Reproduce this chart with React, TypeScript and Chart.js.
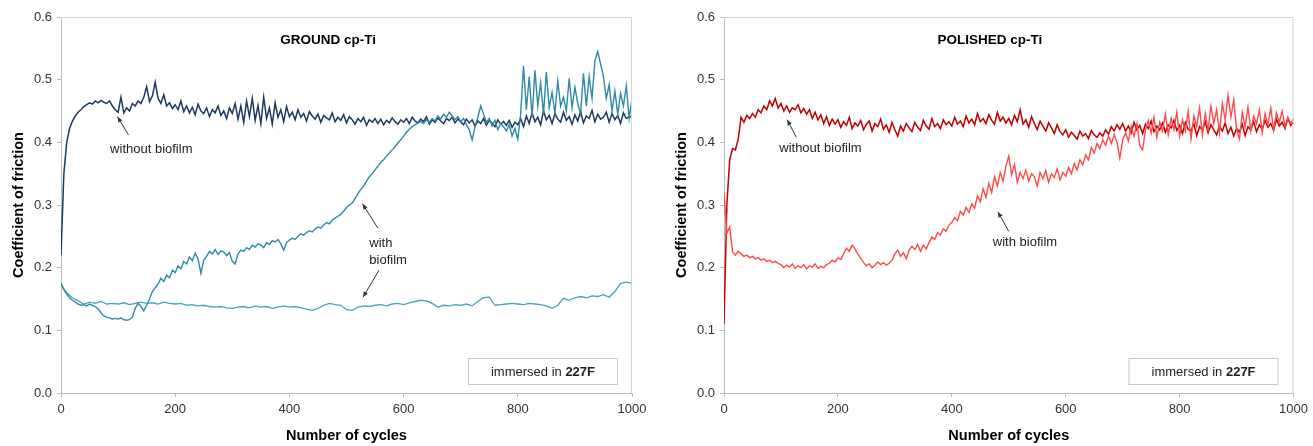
import React, { useEffect, useRef } from "react";
import { Chart, registerables } from "chart.js";

Chart.register(...registerables);
Chart.defaults.font.family = "'Liberation Sans', Arial, sans-serif";

// ---------- categories (cycles) ----------
const cyclesFine = [
  0, 5, 10, 15, 20, 25, 30, 35, 40, 45, 50, 55, 60, 65, 70, 75, 80, 85, 90, 95,
  100, 105, 110, 115, 120, 125, 130, 135, 140, 145, 150, 155, 160, 165, 170, 175, 180, 185, 190, 195,
  200, 205, 210, 215, 220, 225, 230, 235, 240, 245, 250, 255, 260, 265, 270, 275, 280, 285, 290, 295,
  300, 305, 310, 315, 320, 325, 330, 335, 340, 345, 350, 355, 360, 365, 370, 375, 380, 385, 390, 395,
  400, 405, 410, 415, 420, 425, 430, 435, 440, 445, 450, 455, 460, 465, 470, 475, 480, 485, 490, 495,
  500, 505, 510, 515, 520, 525, 530, 535, 540, 545, 550, 555, 560, 565, 570, 575, 580, 585, 590, 595,
  600, 605, 610, 615, 620, 625, 630, 635, 640, 645, 650, 655, 660, 665, 670, 675, 680, 685, 690, 695,
  700, 705, 710, 715, 720, 725, 730, 735, 740, 745, 750, 755, 760, 765, 770, 775, 780, 785, 790, 795,
  800, 805, 810, 815, 820, 825, 830, 835, 840, 845, 850, 855, 860, 865, 870, 875, 880, 885, 890, 895,
  900, 905, 910, 915, 920, 925, 930, 935, 940, 945, 950, 955, 960, 965, 970, 975, 980, 985, 990, 995,
  1000,
];

const cyclesCoarse = [
  0, 10, 20, 30, 40, 50, 60, 70, 80, 90,
  100, 110, 120, 130, 140, 150, 160, 170, 180, 190,
  200, 210, 220, 230, 240, 250, 260, 270, 280, 290,
  300, 310, 320, 330, 340, 350, 360, 370, 380, 390,
  400, 410, 420, 430, 440, 450, 460, 470, 480, 490,
  500, 510, 520, 530, 540, 550, 560, 570, 580, 590,
  600, 610, 620, 630, 640, 650, 660, 670, 680, 690,
  700, 710, 720, 730, 740, 750, 760, 770, 780, 790,
  800, 810, 820, 830, 840, 850, 860, 870, 880, 890,
  900, 910, 920, 930, 940, 950, 960, 970, 980, 990,
  1000,
];

// ---------- tick labels ----------
const xTicks = [0, 200, 400, 600, 800, 1000];
const yTicks = [0.0, 0.1, 0.2, 0.3, 0.4, 0.5, 0.6];
const yTickLabels = ["0.0", "0.1", "0.2", "0.3", "0.4", "0.5", "0.6"];

// ---------- GROUND cp-Ti ----------
const groundWithout = [
  0.220, 0.350, 0.400, 0.422, 0.434, 0.442, 0.448, 0.452, 0.457, 0.460, 0.463, 0.461, 0.466, 0.463, 0.467, 0.464, 0.462, 0.466, 0.458, 0.452,
  0.448, 0.472, 0.447, 0.455, 0.450, 0.462, 0.458, 0.466, 0.462, 0.472, 0.489, 0.465, 0.474, 0.496, 0.470, 0.462, 0.476, 0.458, 0.463, 0.454,
  0.460, 0.452, 0.466, 0.449, 0.458, 0.447, 0.456, 0.444, 0.461, 0.450, 0.446, 0.455, 0.441, 0.452, 0.447, 0.458, 0.443, 0.450, 0.438, 0.455,
  0.446, 0.462, 0.437, 0.458, 0.432, 0.466, 0.441, 0.470, 0.435, 0.459, 0.430, 0.472, 0.438, 0.455, 0.429, 0.463, 0.440, 0.452, 0.433, 0.457,
  0.441, 0.448, 0.436, 0.452, 0.440, 0.446, 0.434, 0.449, 0.442, 0.437, 0.445, 0.432, 0.443, 0.439, 0.436, 0.447, 0.433, 0.440, 0.435, 0.444,
  0.431, 0.441, 0.436, 0.429, 0.438, 0.433, 0.440, 0.427, 0.436, 0.432, 0.438, 0.430, 0.437, 0.428, 0.435, 0.431, 0.439, 0.433, 0.429, 0.436,
  0.432, 0.438, 0.430, 0.440, 0.434, 0.431, 0.437, 0.433, 0.441, 0.429, 0.436, 0.432, 0.439, 0.434, 0.430, 0.438, 0.435, 0.440, 0.431, 0.437,
  0.433, 0.428, 0.437, 0.431, 0.436, 0.426, 0.434, 0.430, 0.438, 0.427, 0.435, 0.431, 0.425, 0.436, 0.429, 0.433, 0.427, 0.435, 0.424, 0.432,
  0.428, 0.438, 0.425, 0.442, 0.430, 0.447, 0.433, 0.440, 0.428, 0.450, 0.436, 0.443, 0.430, 0.446, 0.437, 0.432, 0.448, 0.435, 0.441, 0.429,
  0.444, 0.434, 0.449, 0.431, 0.442, 0.438, 0.451, 0.433, 0.445, 0.437, 0.440, 0.448, 0.432, 0.446, 0.436, 0.443, 0.430, 0.447, 0.438, 0.441,
  0.440,
];

const groundWithBiofilmA = [
  0.175, 0.165, 0.158, 0.152, 0.148, 0.145, 0.142, 0.140, 0.141, 0.139, 0.142, 0.140, 0.138, 0.134, 0.128, 0.123, 0.121, 0.120, 0.118, 0.119,
  0.118, 0.120, 0.117, 0.116, 0.117, 0.121, 0.135, 0.143, 0.138, 0.131, 0.140, 0.150, 0.162, 0.168, 0.174, 0.183, 0.178, 0.188, 0.184, 0.196,
  0.192, 0.203, 0.198, 0.210, 0.206, 0.217, 0.211, 0.223, 0.214, 0.191, 0.212, 0.218, 0.226, 0.222, 0.229, 0.221, 0.227, 0.225, 0.219, 0.224,
  0.210, 0.206, 0.222, 0.228, 0.226, 0.232, 0.229, 0.236, 0.233, 0.238, 0.236, 0.232, 0.240, 0.237, 0.243, 0.241, 0.245, 0.238, 0.228, 0.240,
  0.244, 0.247, 0.245, 0.250, 0.254, 0.252, 0.256, 0.259, 0.257, 0.262, 0.265, 0.263, 0.268, 0.272, 0.270, 0.276, 0.279, 0.282, 0.285, 0.290,
  0.296, 0.300, 0.303, 0.310, 0.318, 0.325, 0.330, 0.338, 0.345, 0.350, 0.356, 0.362, 0.368, 0.372, 0.378, 0.383, 0.388, 0.393, 0.399, 0.404,
  0.410, 0.416, 0.421, 0.425, 0.428, 0.431, 0.433, 0.430, 0.436, 0.432, 0.438, 0.434, 0.442, 0.437, 0.445, 0.440, 0.448, 0.442, 0.436, 0.441,
  0.433, 0.438, 0.428, 0.420, 0.404, 0.425, 0.440, 0.458, 0.445, 0.432, 0.438, 0.426, 0.435, 0.420, 0.430, 0.425, 0.418, 0.428, 0.410, 0.422,
  0.405, 0.445, 0.522, 0.452, 0.505, 0.440, 0.515, 0.458, 0.495, 0.445, 0.512, 0.455, 0.480, 0.446, 0.498, 0.458, 0.472, 0.450, 0.502, 0.455,
  0.488, 0.462, 0.445, 0.510, 0.458, 0.505, 0.470, 0.530, 0.545, 0.525, 0.505, 0.470, 0.492, 0.450, 0.482, 0.445, 0.478, 0.458, 0.490, 0.438,
  0.470,
];

const groundWithBiofilmB = [
  0.172, 0.160, 0.152, 0.147, 0.142, 0.145, 0.143, 0.146, 0.142, 0.143,
  0.142, 0.144, 0.141, 0.143, 0.145, 0.143, 0.144, 0.142, 0.145, 0.143,
  0.142, 0.143, 0.140, 0.141, 0.139, 0.140, 0.138, 0.137, 0.138, 0.136,
  0.135, 0.137, 0.138, 0.136, 0.139, 0.137, 0.138, 0.135, 0.137, 0.139,
  0.137, 0.138, 0.136, 0.134, 0.132, 0.135, 0.140, 0.143, 0.141, 0.140,
  0.133, 0.132, 0.137, 0.139, 0.138, 0.140, 0.141, 0.139, 0.142, 0.143,
  0.141, 0.144, 0.146, 0.148, 0.147, 0.143, 0.137, 0.140, 0.139, 0.141,
  0.140, 0.142, 0.139, 0.146, 0.152, 0.153, 0.140, 0.141, 0.142, 0.143,
  0.142, 0.141, 0.143, 0.142, 0.141, 0.139, 0.135, 0.140, 0.151, 0.148,
  0.152, 0.154, 0.152, 0.155, 0.154, 0.157, 0.153, 0.162, 0.175, 0.177,
  0.175,
];

// ---------- POLISHED cp-Ti ----------
const polishedWithout = [
  0.110, 0.300, 0.372, 0.390, 0.388, 0.405, 0.440, 0.432, 0.443, 0.438, 0.446, 0.440, 0.452, 0.447, 0.458, 0.452, 0.466, 0.458, 0.470, 0.455,
  0.462, 0.450, 0.458, 0.448, 0.455, 0.452, 0.460, 0.447, 0.454, 0.445, 0.452, 0.438, 0.448, 0.436, 0.444, 0.430, 0.441, 0.427, 0.437, 0.429,
  0.436, 0.424, 0.433, 0.427, 0.440, 0.422, 0.431, 0.426, 0.435, 0.420, 0.429, 0.434, 0.418, 0.430, 0.425, 0.437, 0.421, 0.428, 0.416, 0.432,
  0.420, 0.410, 0.426, 0.418, 0.430, 0.423, 0.417, 0.432, 0.424, 0.419, 0.435, 0.426, 0.421, 0.438, 0.425, 0.430, 0.422, 0.436, 0.428, 0.433,
  0.426, 0.440, 0.429, 0.434, 0.425, 0.442, 0.431, 0.437, 0.428, 0.446, 0.433, 0.438, 0.430, 0.444, 0.435, 0.429, 0.448, 0.434, 0.440, 0.431,
  0.438, 0.428, 0.443, 0.433, 0.452, 0.429, 0.436, 0.424, 0.441, 0.430, 0.420, 0.434, 0.426, 0.418, 0.431, 0.423, 0.414, 0.428, 0.417, 0.412,
  0.420, 0.408, 0.416, 0.411, 0.405, 0.418, 0.410, 0.414, 0.406, 0.419, 0.412, 0.408, 0.415, 0.410, 0.420, 0.413, 0.425, 0.418, 0.428, 0.421,
  0.430, 0.418, 0.426, 0.415, 0.432, 0.420, 0.427, 0.414, 0.429, 0.422, 0.434, 0.417, 0.426, 0.420, 0.431, 0.416, 0.428, 0.423, 0.435, 0.419,
  0.427, 0.414, 0.432, 0.421, 0.418, 0.430, 0.411, 0.425, 0.419, 0.433, 0.415, 0.428, 0.420, 0.412, 0.426, 0.418, 0.431, 0.414, 0.424, 0.410,
  0.422, 0.416, 0.429, 0.411, 0.425, 0.420, 0.433, 0.417, 0.428, 0.421, 0.435, 0.424, 0.430, 0.419, 0.437, 0.426, 0.432, 0.422, 0.438, 0.427,
  0.432,
];

const polishedWithBiofilm = [
  0.320, 0.255, 0.265, 0.225, 0.220, 0.226, 0.222, 0.218, 0.220, 0.216, 0.218, 0.214, 0.216, 0.212, 0.214, 0.210, 0.212, 0.208, 0.210, 0.207,
  0.205, 0.200, 0.204, 0.201, 0.206, 0.199, 0.203, 0.200, 0.205, 0.198, 0.203, 0.201, 0.206, 0.199, 0.202, 0.200, 0.205, 0.207, 0.212, 0.209,
  0.216, 0.213, 0.222, 0.231, 0.226, 0.236, 0.230, 0.222, 0.215, 0.208, 0.203, 0.206, 0.200, 0.204, 0.209, 0.205, 0.208, 0.204, 0.207, 0.212,
  0.222, 0.228, 0.218, 0.224, 0.214, 0.228, 0.234, 0.229, 0.237, 0.226, 0.236, 0.230, 0.240, 0.249, 0.245, 0.256, 0.252, 0.262, 0.258, 0.268,
  0.272, 0.280, 0.275, 0.290, 0.284, 0.296, 0.288, 0.302, 0.295, 0.315, 0.305, 0.326, 0.312, 0.335, 0.320, 0.345, 0.330, 0.352, 0.338, 0.362,
  0.378, 0.348, 0.365, 0.336, 0.352, 0.342, 0.356, 0.338, 0.350, 0.345, 0.330, 0.352, 0.342, 0.355, 0.336, 0.350, 0.344, 0.358, 0.340, 0.352,
  0.346, 0.360, 0.350, 0.366, 0.356, 0.372, 0.364, 0.380, 0.372, 0.392, 0.383, 0.398, 0.390, 0.404, 0.395, 0.410, 0.398, 0.412, 0.400, 0.375,
  0.404, 0.415, 0.402, 0.426, 0.410, 0.430, 0.395, 0.388, 0.420, 0.435, 0.415, 0.440, 0.408, 0.432, 0.418, 0.445, 0.412, 0.438, 0.420, 0.448,
  0.410, 0.436, 0.418, 0.450, 0.405, 0.442, 0.425, 0.455, 0.412, 0.446, 0.420, 0.458, 0.430, 0.452, 0.415, 0.462, 0.436, 0.475, 0.440, 0.468,
  0.420, 0.405, 0.448, 0.425, 0.456, 0.418, 0.442, 0.430, 0.452, 0.415, 0.446, 0.428, 0.455, 0.420, 0.447, 0.432, 0.450, 0.425, 0.440, 0.430,
  0.438,
];

// ---------- helpers ----------
const toPoints = (xs: number[], ys: number[]) => ys.map((v, i) => ({ x: xs[i], y: v }));

const FONT = "'Liberation Sans', Arial, sans-serif";

function drawArrow(ctx: CanvasRenderingContext2D, x1: number, y1: number, x2: number, y2: number) {
  ctx.beginPath();
  ctx.moveTo(x1, y1);
  ctx.lineTo(x2, y2);
  ctx.stroke();
  const ang = Math.atan2(y2 - y1, x2 - x1);
  const len = 6;
  const spread = 0.4;
  ctx.beginPath();
  ctx.moveTo(x2, y2);
  ctx.lineTo(x2 - len * Math.cos(ang - spread), y2 - len * Math.sin(ang - spread));
  ctx.lineTo(x2 - len * Math.cos(ang + spread), y2 - len * Math.sin(ang + spread));
  ctx.closePath();
  ctx.fill();
}

const overlayPlugin = {
  id: "overlay",
  afterDatasetsDraw(chart: any, _args: any, opts: any) {
    const { ctx, chartArea } = chart;
    const xs = chart.scales.x;
    const ys = chart.scales.y;
    ctx.save();
    // plot frame
    ctx.strokeStyle = "#d4d4d4";
    ctx.lineWidth = 1;
    ctx.beginPath();
    ctx.moveTo(chartArea.left, chartArea.top + 0.5);
    ctx.lineTo(chartArea.right - 0.5, chartArea.top + 0.5);
    ctx.lineTo(chartArea.right - 0.5, chartArea.bottom);
    ctx.stroke();

    // title inside plot
    ctx.fillStyle = "#000";
    ctx.font = `bold 13.5px ${FONT}`;
    ctx.textAlign = "center";
    ctx.textBaseline = "middle";
    ctx.fillText(opts.title, xs.getPixelForValue(opts.titleAt[0]), ys.getPixelForValue(opts.titleAt[1]));

    // notes
    ctx.fillStyle = "#222";
    ctx.font = `13px ${FONT}`;
    ctx.textAlign = "left";
    for (const n of opts.notes) {
      ctx.fillText(n.text, xs.getPixelForValue(n.at[0]), ys.getPixelForValue(n.at[1]));
    }
    // arrows
    ctx.strokeStyle = "#333";
    ctx.fillStyle = "#333";
    ctx.lineWidth = 1;
    for (const a of opts.arrows) {
      drawArrow(
        ctx,
        xs.getPixelForValue(a.from[0]),
        ys.getPixelForValue(a.from[1]),
        xs.getPixelForValue(a.to[0]),
        ys.getPixelForValue(a.to[1])
      );
    }

    // box "immersed in 227F"
    const bw = 150, bh = 27;
    const bx = chartArea.right - opts.boxRight - bw;
    const by = chartArea.bottom - 8 - bh;
    ctx.fillStyle = "#fff";
    ctx.fillRect(bx, by, bw, bh);
    ctx.strokeStyle = "#c8c8c8";
    ctx.strokeRect(bx + 0.5, by + 0.5, bw - 1, bh - 1);
    ctx.font = `13px ${FONT}`;
    const t1 = "immersed in ";
    const w1 = ctx.measureText(t1).width;
    ctx.font = `bold 13px ${FONT}`;
    const t2 = "227F";
    const w2 = ctx.measureText(t2).width;
    const tx = bx + (bw - w1 - w2) / 2;
    const ty = by + bh / 2 + 1;
    ctx.textAlign = "left";
    ctx.textBaseline = "middle";
    ctx.fillStyle = "#222";
    ctx.font = `13px ${FONT}`;
    ctx.fillText(t1, tx, ty);
    ctx.font = `bold 13px ${FONT}`;
    ctx.fillText(t2, tx + w1, ty);
    ctx.restore();
  },
};

type Cfg = {
  width: number;
  height: number;
  yAxisWidth: number;
  padRight: number;
  yTitlePad: number;
  datasets: any[];
  overlay: any;
};

function FrictionChart({ cfg, left }: { cfg: Cfg; left: number }) {
  const ref = useRef<HTMLCanvasElement>(null);
  useEffect(() => {
    if (!ref.current) return;
    const chart = new Chart(ref.current, {
      type: "line",
      data: { datasets: cfg.datasets },
      options: {
        responsive: false,
        maintainAspectRatio: false,
        animation: false,
        layout: { padding: { left: 0, right: cfg.padRight, top: 17, bottom: 0 } },
        elements: { point: { radius: 0 }, line: { tension: 0 } },
        plugins: {
          legend: { display: false },
          tooltip: { enabled: false },
          title: { display: false },
          overlay: cfg.overlay,
        } as any,
        scales: {
          x: {
            type: "linear",
            min: 0,
            max: 1000,
            afterBuildTicks: (s: any) => {
              s.ticks = xTicks.map((v) => ({ value: v }));
            },
            afterFit: (s: any) => {
              s.height = 53;
            },
            ticks: {
              color: "#333",
              font: { size: 13 },
              padding: 5,
              maxRotation: 0,
              autoSkip: false,
              callback: (v: any) => String(v),
            },
            grid: { drawOnChartArea: false, drawTicks: true, tickLength: 4, color: "#bdbdbd" },
            border: { color: "#bdbdbd" },
            title: {
              display: true,
              text: "Number of cycles",
              color: "#000",
              font: { size: 14.5, weight: "bold" },
              padding: { top: 0, bottom: 1 },
            },
          },
          y: {
            type: "linear",
            min: 0,
            max: 0.6,
            afterBuildTicks: (s: any) => {
              s.ticks = yTicks.map((v) => ({ value: v }));
            },
            afterFit: (s: any) => {
              s.width = cfg.yAxisWidth;
            },
            ticks: {
              color: "#333",
              font: { size: 13 },
              padding: 5,
              autoSkip: false,
              callback: (_v: any, i: number) => yTickLabels[i],
            },
            grid: { drawOnChartArea: false, drawTicks: true, tickLength: 4, color: "#bdbdbd" },
            border: { color: "#bdbdbd" },
            title: {
              display: true,
              text: "Coefficient of friction",
              color: "#000",
              font: { size: 14.5, weight: "bold" },
              padding: { top: cfg.yTitlePad, bottom: 0 },
            },
          },
        },
      },
      plugins: [overlayPlugin],
    } as any);
    return () => chart.destroy();
  }, []);
  return (
    <canvas
      ref={ref}
      width={cfg.width}
      height={cfg.height}
      style={{ position: "absolute", left, top: 0, width: cfg.width, height: cfg.height }}
    />
  );
}

const groundCfg: Cfg = {
  width: 656,
  height: 446,
  yAxisWidth: 61,
  padRight: 24,
  yTitlePad: 10,
  datasets: [
    { label: "with biofilm A", data: toPoints(cyclesFine, groundWithBiofilmA), borderColor: "#2f8aa4", borderWidth: 1.4, order: 1 },
    { label: "with biofilm B", data: toPoints(cyclesCoarse, groundWithBiofilmB), borderColor: "#4aa3bb", borderWidth: 1.3, order: 2 },
    { label: "without biofilm", data: toPoints(cyclesFine, groundWithout), borderColor: "#1d3a5f", borderWidth: 1.5, order: 3 },
  ],
  overlay: {
    title: "GROUND cp-Ti",
    titleAt: [468, 0.563],
    notes: [
      { text: "without biofilm", at: [86, 0.389] },
      { text: "with", at: [540, 0.239] },
      { text: "biofilm", at: [540, 0.211] },
    ],
    arrows: [
      { from: [118, 0.412], to: [99, 0.441] },
      { from: [555, 0.263], to: [528, 0.302] },
      { from: [557, 0.196], to: [529, 0.153] },
    ],
    boxRight: 14,
  },
};

const polishedCfg: Cfg = {
  width: 657,
  height: 446,
  yAxisWidth: 68,
  padRight: 16,
  yTitlePad: 17,
  datasets: [
    { label: "with biofilm", data: toPoints(cyclesFine, polishedWithBiofilm), borderColor: "#ff4a4a", borderWidth: 1.4, order: 1 },
    { label: "without biofilm", data: toPoints(cyclesFine, polishedWithout), borderColor: "#c00000", borderWidth: 1.5, order: 2 },
  ],
  overlay: {
    title: "POLISHED cp-Ti",
    titleAt: [467, 0.563],
    notes: [
      { text: "without biofilm", at: [97, 0.391] },
      { text: "with biofilm", at: [472, 0.240] },
    ],
    arrows: [
      { from: [127, 0.408], to: [111, 0.436] },
      { from: [500, 0.258], to: [481, 0.289] },
    ],
    boxRight: 15,
  },
};

export default function App() {
  return (
    <div style={{ position: "absolute", left: 0, top: 0, width: 1313, height: 446, background: "#fff" }}>
      <FrictionChart cfg={groundCfg} left={0} />
      <FrictionChart cfg={polishedCfg} left={656} />
    </div>
  );
}
